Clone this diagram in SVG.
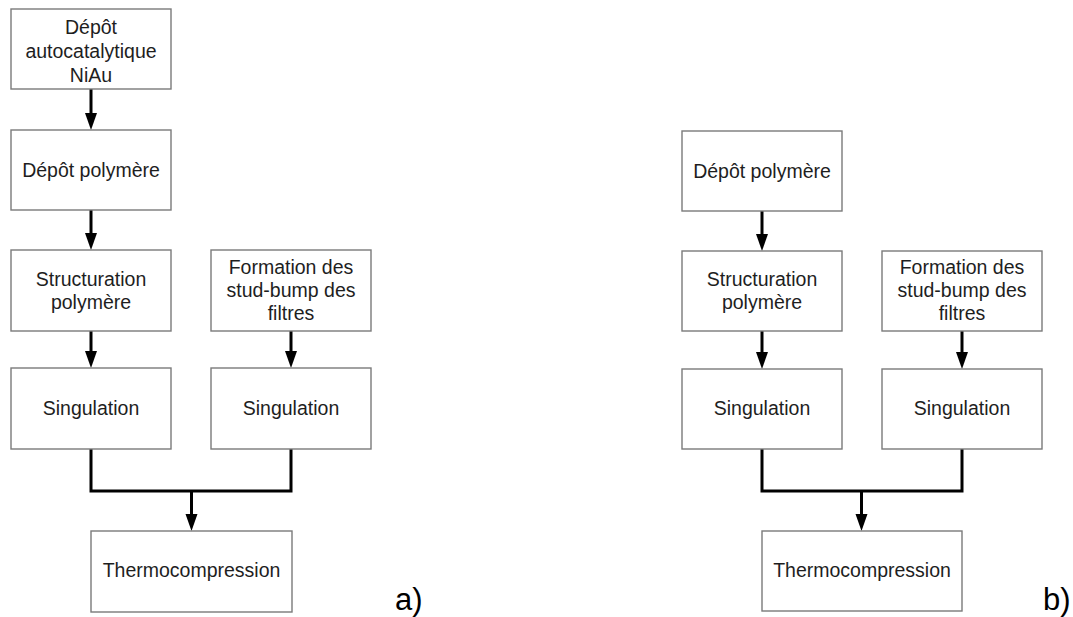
<svg xmlns="http://www.w3.org/2000/svg" width="1073" height="617" viewBox="0 0 1073 617">
<style>
.box{fill:#fff;stroke:#7a7a7a;stroke-width:1.4}
.t{font-family:"Liberation Sans",Arial,sans-serif;font-size:19.5px;fill:#1e1e1e;text-anchor:middle}
.lab{font-family:"Liberation Sans",Arial,sans-serif;font-size:31px;fill:#000}
.c{fill:none;stroke:#000;stroke-width:3}
</style>
<defs>
<marker id="ah" markerUnits="userSpaceOnUse" markerWidth="18" markerHeight="13" refX="3" refY="6" orient="auto" overflow="visible">
<path d="M0,0 L17,6 L0,12 Z" fill="#000"/>
</marker>
</defs>
<rect width="1073" height="617" fill="#fff"/>
<g id="connectors">
<line class="c" x1="91" y1="89" x2="91" y2="116" marker-end="url(#ah)"/>
<line class="c" x1="91" y1="210" x2="91" y2="236" marker-end="url(#ah)"/>
<line class="c" x1="91" y1="331" x2="91" y2="354" marker-end="url(#ah)"/>
<line class="c" x1="291" y1="331" x2="291" y2="354" marker-end="url(#ah)"/>
<path class="c" d="M91,449 V491 H291 V449"/>
<line class="c" x1="191.5" y1="491" x2="191.5" y2="517" marker-end="url(#ah)"/>
<line class="c" x1="762" y1="211" x2="762" y2="237" marker-end="url(#ah)"/>
<line class="c" x1="762" y1="331" x2="762" y2="355" marker-end="url(#ah)"/>
<line class="c" x1="962" y1="331" x2="962" y2="355" marker-end="url(#ah)"/>
<path class="c" d="M762,449 V491 H962 V449"/>
<line class="c" x1="861.5" y1="491" x2="861.5" y2="517" marker-end="url(#ah)"/>
</g>
<g id="a1"><rect class="box" x="11" y="9" width="160" height="80"/>
<text class="t" x="91" y="33.5">Dépôt</text><text class="t" x="91" y="57.5">autocatalytique</text><text class="t" x="91" y="81.5">NiAu</text></g>
<g id="a2"><rect class="box" x="11" y="130" width="160" height="80"/>
<text class="t" x="91" y="176.5">Dépôt polymère</text></g>
<g id="a3"><rect class="box" x="11" y="250" width="160" height="81"/>
<text class="t" x="91" y="285.5">Structuration</text><text class="t" x="91" y="308.5">polymère</text></g>
<g id="a4"><rect class="box" x="211" y="250" width="160" height="81"/>
<text class="t" x="291" y="273.5">Formation des</text><text class="t" x="291" y="296.5">stud-bump des</text><text class="t" x="291" y="319.5">filtres</text></g>
<g id="a5"><rect class="box" x="11" y="368" width="160" height="81"/>
<text class="t" x="91" y="414.5">Singulation</text></g>
<g id="a6"><rect class="box" x="211" y="368" width="160" height="81"/>
<text class="t" x="291" y="414.5">Singulation</text></g>
<g id="a7"><rect class="box" x="91" y="531" width="201" height="81"/>
<text class="t" x="191.5" y="577">Thermocompression</text></g>
<text class="lab" x="395" y="610">a)</text>
<g id="b2"><rect class="box" x="682" y="131" width="160" height="80"/>
<text class="t" x="762" y="177.5">Dépôt polymère</text></g>
<g id="b3"><rect class="box" x="682" y="251" width="160" height="80"/>
<text class="t" x="762" y="286">Structuration</text><text class="t" x="762" y="309">polymère</text></g>
<g id="b4"><rect class="box" x="882" y="251" width="160" height="80"/>
<text class="t" x="962" y="274">Formation des</text><text class="t" x="962" y="297">stud-bump des</text><text class="t" x="962" y="320">filtres</text></g>
<g id="b5"><rect class="box" x="682" y="369" width="160" height="80"/>
<text class="t" x="762" y="415">Singulation</text></g>
<g id="b6"><rect class="box" x="882" y="369" width="160" height="80"/>
<text class="t" x="962" y="415">Singulation</text></g>
<g id="b7"><rect class="box" x="762" y="531" width="200" height="80"/>
<text class="t" x="862" y="577">Thermocompression</text></g>
<text class="lab" x="1043" y="610">b)</text>
</svg>
